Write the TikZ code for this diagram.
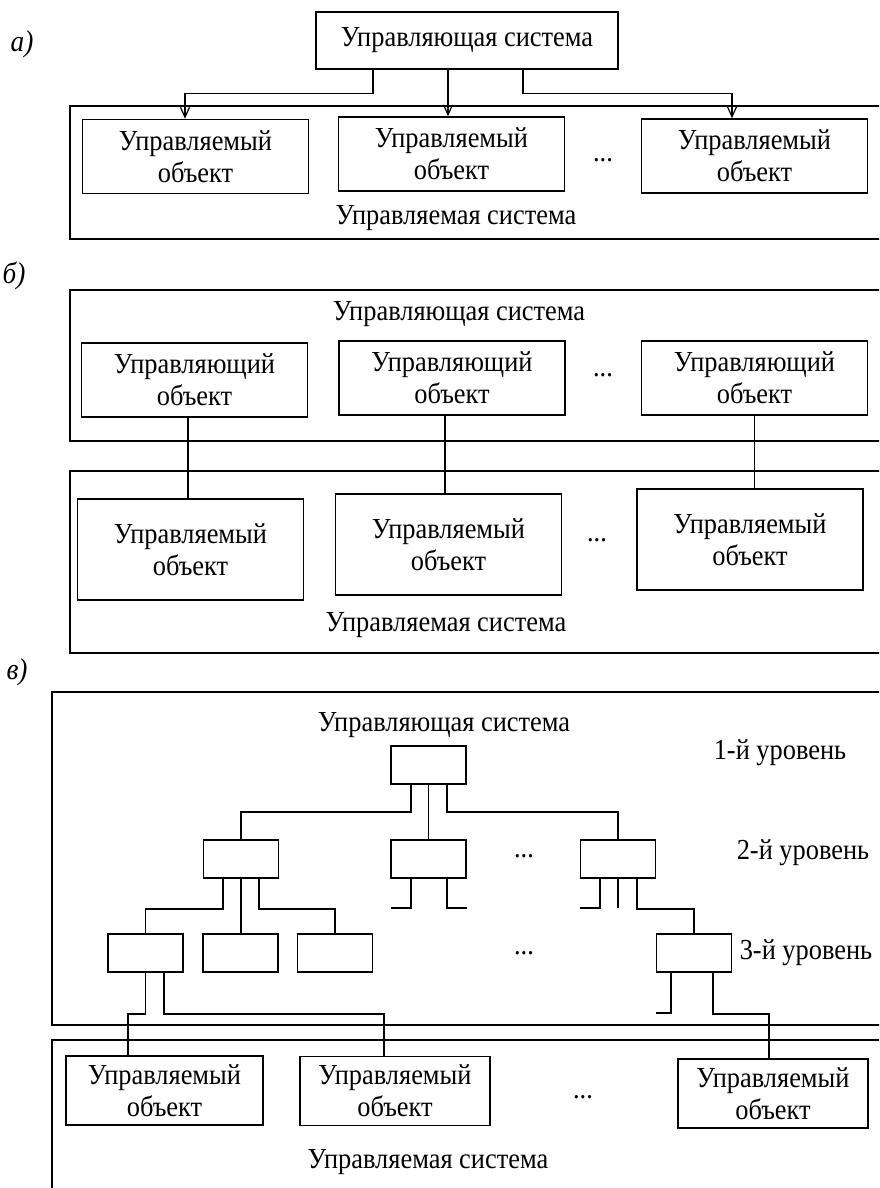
\documentclass[tikz,border=0pt]{standalone}
\usepackage{fontspec}
\setmainfont{Liberation Serif}[FakeStretch=0.91]
\usetikzlibrary{arrows.meta}

\begin{document}
\begin{tikzpicture}[
    x=0.5pt, y=-0.5pt,
    line width=0.75pt,
    txt/.style={font=\fontsize{14.5}{16}\selectfont, inner sep=0pt, align=center},
    partlbl/.style={txt, font=\fontsize{15}{16}\selectfont\itshape},
    sysframe/.style={draw, line width=0.9pt, inner sep=0pt},
    obj/.style={txt, draw, minimum width=113pt, minimum height=37pt},
    tall/.style={obj, minimum height=50.5pt},
    leaf/.style={obj, minimum width=95pt, minimum height=34.5pt},
    lvbox/.style={draw, inner sep=0pt, minimum width=37.5pt, minimum height=19pt},
    arrow/.style={-{Straight Barb[length=5pt, width=4.5pt]}, line width=0.6pt},
    thin/.style={line width=0.55pt}
]
\useasboundingbox (0,0) rectangle (879,1188);
\clip (0,0) rectangle (879,1188);

% --- a) ---
\node[partlbl] (labA) at (22,44) {а)};
\node[sysframe, minimum width=407pt, minimum height=66.5pt] (sysA) at (477,172.5) {};
\node[obj, minimum width=151pt, minimum height=28.5pt] (ctrlA) at (467,40.5) {Управляющая система};
\node[obj] (objA1) at (195.5,156.5) {Управляемый\\объект};
\node[obj] (objA2) at (451.5,154) {Управляемый\\объект};
\node[obj] (objA3) at (754.5,156) {Управляемый\\объект};
\node[txt] (dotsA) at (603,160) {...};
\node[txt] (sysAtxt) at (456,218) {Управляемая система};

\draw[arrow] ([xshift=-47pt]ctrlA.south) -- ++(0,24) -| ([xshift=-5.25pt]objA1.north);
\draw[arrow] ([xshift=-9.5pt]ctrlA.south) -- ([xshift=-9.5pt]ctrlA.south |- objA2.north);
\draw[arrow] ([xshift=28pt]ctrlA.south) -- ++(0,24) -| ([xshift=-11.25pt]objA3.north);

% --- b) ---
\node[partlbl] (labB) at (14,276) {б)};
\node[sysframe, minimum width=407pt, minimum height=75.5pt] (ctrlB) at (477,365.5) {};
\node[txt] (ctrlBtxt) at (459,314) {Управляющая система};
\node[obj] (mgrB1) at (194.5,380) {Управляющий\\объект};
\node[obj] (mgrB2) at (452,378) {Управляющий\\объект};
\node[obj] (mgrB3) at (754.5,378) {Управляющий\\объект};
\node[txt] (dotsB1) at (603,375) {...};

\node[sysframe, minimum width=407pt, minimum height=91pt] (sysB) at (477,562) {};
\node[tall] (objB1) at (190.5,549.5) {Управляемый\\объект};
\node[tall] (objB2) at (448.5,544.5) {Управляемый\\объект};
\node[tall] (objB3) at (750,539.5) {Управляемый\\объект};
\node[txt] (dotsB2) at (597,540) {...};
\node[txt] (sysBtxt) at (446,625) {Управляемая система};

\draw[thin] ([xshift=-3.25pt]mgrB1.south) -- ([xshift=-3.25pt]mgrB1.south |- objB1.north);
\draw[thin] ([xshift=-3.5pt]mgrB2.south) -- ([xshift=-3.5pt]mgrB2.south |- objB2.north);
\draw[thin] (mgrB3.south) -- (mgrB3.south |- objB3.north);

% --- c) ---
\node[partlbl] (labC) at (17,672) {в)};
\node[sysframe, minimum width=416pt, minimum height=166.5pt] (ctrlC) at (468,858.5) {};
\node[txt] (ctrlCtxt) at (444,725) {Управляющая система};
\node[lvbox] (l1) at (428.5,765) {};
\node[lvbox] (l2a) at (241,859) {};
\node[lvbox] (l2b) at (428.5,859) {};
\node[lvbox] (l2c) at (618,859) {};
\node[lvbox] (l3a) at (145.5,953) {};
\node[lvbox] (l3b) at (240.5,953) {};
\node[lvbox] (l3c) at (335,953) {};
\node[lvbox] (l3d) at (694,953) {};
\node[txt] (dotsC2) at (524,856) {...};
\node[txt] (dotsC3) at (524,953) {...};
\node[txt] (lev1) at (780,753) {1-й уровень};
\node[txt] (lev2) at (803,853) {2-й уровень};
\node[txt] (lev3) at (806,953) {3-й уровень};

\node[sysframe, minimum width=416pt, minimum height=80pt] (sysC) at (468,1120) {};
\node[leaf, minimum width=98.5pt] (objC1) at (164.5,1090.5) {Управляемый\\объект};
\node[leaf] (objC2) at (395,1091) {Управляемый\\объект};
\node[leaf] (objC3) at (773,1093.5) {Управляемый\\объект};
\node[txt] (dotsC4) at (583,1097) {...};
\node[txt] (sysCtxt) at (428,1162) {Управляемая система};

% open ends
\coordinate (stubB1) at (391,908);
\coordinate (stubB2) at (467,908);
\coordinate (stubC1) at (580,908);
\coordinate (stubC2) at (618,908);
\coordinate (stubD1) at (656,1013);

% level 1 -> level 2
\draw ([xshift=-8.75pt]l1.south) -- ++(0,27) -| (l2a.north);
\draw (l1.south) -- (l2b.north);
\draw ([xshift=9.25pt]l1.south) -- ++(0,27) -| (l2c.north);

% level 2 -> level 3
\draw ([xshift=-9pt]l2a.south) -- ++(0,30) -| (l3a.north);
\draw (l2a.south) -- (l2a.south |- l3b.north);
\draw ([xshift=9pt]l2a.south) -- ++(0,30) -| (l3c.north);
\draw ([xshift=-8.75pt]l2b.south) |- (stubB1);
\draw ([xshift=9.25pt]l2b.south) |- (stubB2);
\draw ([xshift=-9pt]l2c.south) |- (stubC1);
\draw (l2c.south) -- (stubC2);
\draw ([xshift=9.5pt]l2c.south) -- ++(0,30) -| (l3d.north);

% level 3 -> objects
\draw (l3a.south) -- ++(0,41) -| ([xshift=-18.25pt]objC1.north);
\draw ([xshift=9.25pt]l3a.south) -- ++(0,41) -| ([xshift=-5.5pt]objC2.north);
\draw ([xshift=-11.5pt]l3d.south) |- (stubD1);
\draw ([xshift=9.5pt]l3d.south) -- ++(0,41) -| ([xshift=-2pt]objC3.north);

\end{tikzpicture}
\end{document}
